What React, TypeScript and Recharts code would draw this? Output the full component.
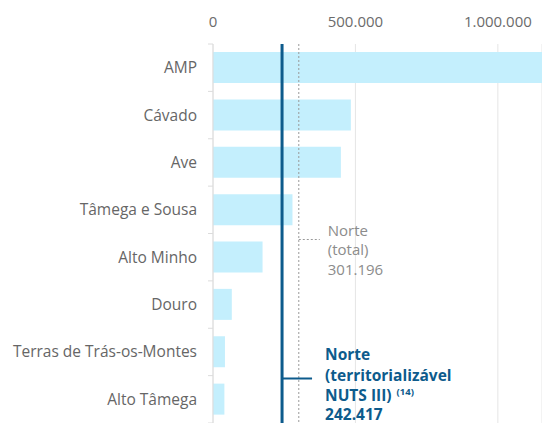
import React from 'react';
import { BarChart, Bar, XAxis, YAxis, CartesianGrid, ReferenceLine } from 'recharts';

const categories = ['AMP', 'Cávado', 'Ave', 'Tâmega e Sousa', 'Alto Minho', 'Douro', 'Terras de Trás-os-Montes', 'Alto Tâmega'];
const values = [1700000, 484000, 449000, 279000, 174000, 66000, 42000, 40000];
const xTicks = [0, 500000, 1000000];
const xDomainMax = 1155000;
const norteTotal = 301196;
const norteTerritorializavel = 242417;
const norteTotalLines = ['Norte', '(total)'];
const norteTerrLines = ['Norte', '(territorializável', 'NUTS III)'];
const norteTerrNote = '(14)';

const data = categories.map((name, i) => ({ name, value: values[i] }));

const FONT = '"Open Sans", "Noto Sans", sans-serif';
const W = 542;
const H = 430;
const TOP = 44;
const BOTTOM = 7;
const YAXIS_W = 213;
const BAND = (H - TOP - BOTTOM) / categories.length;

const fmt = (v: number) => String(Math.round(v)).replace(/\B(?=(\d{3})+(?!\d))/g, '.');

const XTick = (props: any) => {
  const { x, payload } = props;
  return (
    <text x={x} y={27} textAnchor="middle" fontFamily={FONT} fontSize={15} fill="#6b6b6b">
      {fmt(payload.value)}
    </text>
  );
};

const YTick = (props: any) => {
  const { y, payload, index } = props;
  const isLast = index === categories.length - 1;
  return (
    <g>
      <line x1={YAXIS_W - 5} x2={YAXIS_W} y1={y - BAND / 2} y2={y - BAND / 2} stroke="#dcdcdc" />
      {isLast && <line x1={YAXIS_W - 5} x2={YAXIS_W} y1={y + BAND / 2} y2={y + BAND / 2} stroke="#dcdcdc" />}
      <text x={YAXIS_W - 16} y={y + 5.5} textAnchor="end" fontFamily={FONT} fontSize={15.5} fill="#666">
        {payload.value}
      </text>
    </g>
  );
};

const TotalLabel = (props: any) => {
  const vb = props.viewBox || {};
  const x = vb.x;
  const top = vb.y;
  return (
    <g>
      <line x1={x} x2={x + 21} y1={top + 195.5} y2={top + 195.5} stroke="#999" strokeDasharray="2 2" />
      {norteTotalLines.map((t, i) => (
        <text key={t} x={x + 29} y={top + 192 + i * 19} fontFamily={FONT} fontSize={15} fill="#8c8c8c">{t}</text>
      ))}
      <text x={x + 29} y={top + 231} fontFamily={FONT} fontSize={15} fill="#8c8c8c">{fmt(norteTotal)}</text>
    </g>
  );
};

const TerrLabel = (props: any) => {
  const vb = props.viewBox || {};
  const x = vb.x;
  const top = vb.y;
  return (
    <g>
      <line x1={x} x2={x + 30} y1={top + 334.5} y2={top + 334.5} stroke="#0d5b8c" strokeWidth={2} />
      {norteTerrLines.map((t, i) => (
        <text key={t} x={x + 43} y={top + 316 + i * 20.5} fontFamily={FONT} fontSize={15.5} fontWeight={700} fill="#0d5b8c">
          {t}
          {i === 2 && (
            <tspan dx={5} dy={-6} fontSize={9.5}>{norteTerrNote}</tspan>
          )}
        </text>
      ))}
      <text x={x + 43} y={top + 376} fontFamily={FONT} fontSize={15.5} fontWeight={700} fill="#0d5b8c">{fmt(norteTerritorializavel)}</text>
    </g>
  );
};

export default function App() {
  return (
    <div style={{ position: 'fixed', left: 0, top: 0, width: W, height: 423, overflow: 'hidden', background: '#fff' }}>
      <BarChart
        layout="vertical"
        width={W}
        height={H}
        data={data}
        margin={{ top: 0, right: 0, bottom: BOTTOM, left: 0 }}
        barSize={31}
      >
        <CartesianGrid horizontal={false} vertical={true} stroke="#e6e6e6" />
        <XAxis
          type="number"
          orientation="top"
          height={TOP}
          domain={[0, xDomainMax]}
          allowDataOverflow
          ticks={xTicks}
          tick={<XTick />}
          axisLine={false}
          tickLine={false}
          interval={0}
        />
        <YAxis
          type="category"
          dataKey="name"
          width={YAXIS_W}
          axisLine={{ stroke: '#dcdcdc' }}
          tickLine={false}
          tick={<YTick />}
          interval={0}
        />
        <Bar dataKey="value" fill="#c4effd" isAnimationActive={false} />
        <ReferenceLine x={norteTotal} stroke="#9a9a9a" strokeDasharray="2 2" label={<TotalLabel />} />
        <ReferenceLine x={norteTerritorializavel} stroke="#0d5b8c" strokeWidth={3} label={<TerrLabel />} />
      </BarChart>
    </div>
  );
}
